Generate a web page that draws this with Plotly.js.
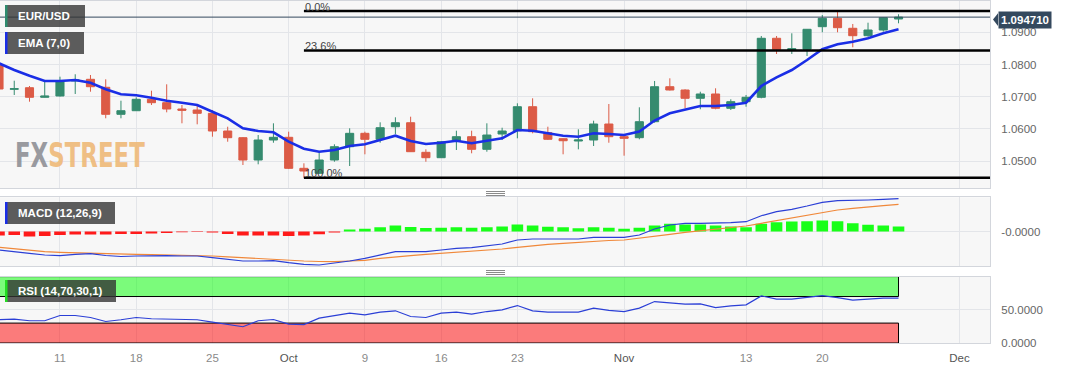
<!DOCTYPE html>
<html><head><meta charset="utf-8">
<script src="https://cdn.plot.ly/plotly-3.0.1.min.js"></script>
<style>
html,body{margin:0;padding:0;background:#fff;}
#wrap{position:relative;width:1067px;height:370px;overflow:hidden;}
#chart{width:1067px;height:370px;}
#wm{position:absolute;left:15px;top:139px;font-family:'Liberation Sans Narrow','DejaVu Sans Condensed','Liberation Sans',sans-serif;font-weight:bold;font-size:33px;line-height:1;transform:scaleX(0.77);transform-origin:left top;opacity:0.9;pointer-events:none;white-space:nowrap;}
</style>
</head><body>
<div id="wrap"><div id="chart"></div><div id="wm"><span style="color:#8f9096">FX</span><span style="color:#efb978">STREET</span></div></div>
<script>
// ---------- data ----------
const dates = [
"2023-09-05","2023-09-06","2023-09-07","2023-09-08",
"2023-09-11","2023-09-12","2023-09-13","2023-09-14","2023-09-15",
"2023-09-18","2023-09-19","2023-09-20","2023-09-21","2023-09-22",
"2023-09-25","2023-09-26","2023-09-27","2023-09-28","2023-09-29",
"2023-10-02","2023-10-03","2023-10-04","2023-10-05","2023-10-06",
"2023-10-09","2023-10-10","2023-10-11","2023-10-12","2023-10-13",
"2023-10-16","2023-10-17","2023-10-18","2023-10-19","2023-10-20",
"2023-10-23","2023-10-24","2023-10-25","2023-10-26","2023-10-27",
"2023-10-30","2023-10-31","2023-11-01","2023-11-02","2023-11-03",
"2023-11-06","2023-11-07","2023-11-08","2023-11-09","2023-11-10",
"2023-11-13","2023-11-14","2023-11-15","2023-11-16","2023-11-17",
"2023-11-20","2023-11-21","2023-11-22","2023-11-23","2023-11-24",
"2023-11-27"];

const openP = [1.07984,1.07230,1.07279,1.06981,1.07022,1.07488,1.07540,1.07292,1.06453,1.06565,
1.06919,1.06814,1.06618,1.06587,1.06484,1.05935,1.05727,1.05034,1.05655,1.05739,
1.04776,1.04621,1.05034,1.05447,1.05863,1.05677,1.06068,1.06192,1.05273,1.05106,
1.05624,1.05758,1.05366,1.05841,1.05944,1.06689,1.05882,1.05696,1.05624,1.05655,
1.06152,1.05758,1.05727,1.06224,1.07310,1.07208,1.06950,1.07084,1.06640,1.06845,
1.06981,1.08814,1.08450,1.08472,1.09174,1.09435,1.09124,1.08894,1.09071,1.09413];
const highP = [1.08047,1.07497,1.07332,1.07488,1.07621,1.07696,1.07674,1.07540,1.06876,1.06981,
1.07186,1.07385,1.06742,1.06720,1.06587,1.06068,1.05748,1.05810,1.06174,1.05913,
1.04932,1.05292,1.05522,1.06019,1.05913,1.06205,1.06360,1.06379,1.05366,1.05624,
1.05944,1.05944,1.06174,1.06037,1.06795,1.06950,1.06068,1.05708,1.05988,1.06255,
1.06773,1.05779,1.06671,1.07488,1.07571,1.07230,1.07155,1.07261,1.06919,1.07053,
1.08885,1.08885,1.08969,1.09102,1.09537,1.09650,1.09258,1.09298,1.09460,1.09559];
const lowP = [1.07177,1.07053,1.06845,1.06975,1.07006,1.07084,1.07155,1.06329,1.06329,1.06556,
1.06742,1.06515,1.06174,1.06143,1.05758,1.05602,1.04879,1.04901,1.05571,1.04755,
1.04480,1.04599,1.04981,1.04848,1.05211,1.05571,1.05842,1.05283,1.04981,1.05096,
1.05345,1.05242,1.05292,1.05655,1.05708,1.05863,1.05655,1.05211,1.05366,1.05469,
1.05571,1.05168,1.05677,1.06192,1.07192,1.06640,1.06609,1.06609,1.06587,1.06689,
1.06950,1.08326,1.08326,1.08264,1.09000,1.09000,1.08534,1.08863,1.09019,1.09279];
const closeP = [1.07239,1.07248,1.06981,1.07022,1.07488,1.07519,1.07310,1.06453,1.06565,1.06919,
1.06814,1.06618,1.06578,1.06484,1.05935,1.05727,1.05034,1.05655,1.05739,1.04776,
1.04692,1.05034,1.05447,1.05863,1.05677,1.06037,1.06192,1.05292,1.05106,1.05602,
1.05758,1.05366,1.05810,1.05935,1.06689,1.05913,1.05677,1.05633,1.05655,1.06152,
1.05758,1.05708,1.06224,1.07310,1.07208,1.06950,1.07084,1.06640,1.06845,1.06981,
1.08814,1.08472,1.08491,1.09093,1.09435,1.09143,1.08894,1.09071,1.09453,1.09471];
const ema7 = [1.08037,1.07829,1.07652,1.07488,1.07488,1.07519,1.07435,1.07230,1.07074,1.07043,
1.06969,1.06876,1.06814,1.06742,1.06534,1.06329,1.06019,1.05935,1.05894,1.05602,
1.05385,1.05292,1.05345,1.05469,1.05522,1.05655,1.05789,1.05624,1.05531,1.05571,
1.05633,1.05553,1.05624,1.05708,1.05966,1.05944,1.05863,1.05789,1.05758,1.05863,
1.05841,1.05810,1.05919,1.06261,1.06484,1.06609,1.06711,1.06711,1.06742,1.06814,
1.07332,1.07602,1.07829,1.08140,1.08472,1.08627,1.08708,1.08814,1.08969,1.09093];
const macdLine = [-0.00463,-0.00513,-0.00545,-0.00588,-0.00605,-0.00570,-0.00555,-0.00600,-0.00625,-0.00613,
-0.00605,-0.00605,-0.00613,-0.00613,-0.00655,-0.00705,-0.00738,-0.00738,-0.00730,-0.00780,
-0.00820,-0.00838,-0.00795,-0.00738,-0.00670,-0.00588,-0.00505,-0.00505,-0.00505,-0.00463,
-0.00420,-0.00405,-0.00363,-0.00313,-0.00213,-0.00188,-0.00188,-0.00188,-0.00188,-0.00145,
-0.00143,-0.00145,-0.00088,0.00063,0.00163,0.00205,0.00205,0.00205,0.00220,0.00245,
0.00395,0.00495,0.00555,0.00638,0.00730,0.00770,0.00770,0.00788,0.00805,0.00820];
const signalLine = [-0.00395,-0.00430,-0.00470,-0.00505,-0.00520,-0.00533,-0.00545,-0.00555,-0.00563,-0.00570,
-0.00578,-0.00583,-0.00588,-0.00600,-0.00613,-0.00633,-0.00655,-0.00670,-0.00695,-0.00725,
-0.00738,-0.00750,-0.00755,-0.00738,-0.00720,-0.00670,-0.00630,-0.00605,-0.00570,-0.00545,
-0.00520,-0.00505,-0.00463,-0.00438,-0.00395,-0.00355,-0.00320,-0.00295,-0.00270,-0.00238,
-0.00225,-0.00213,-0.00170,-0.00130,-0.00070,-0.00020,0.00020,0.00063,0.00105,0.00138,
0.00205,0.00270,0.00345,0.00413,0.00480,0.00538,0.00580,0.00620,0.00645,0.00680];
const macdHist = [-0.00100,-0.00088,-0.00125,-0.00113,-0.00088,-0.00075,-0.00075,-0.00075,-0.00063,-0.00063,
-0.00050,-0.00038,-0.00018,-0.00013,-0.00025,-0.00063,-0.00100,-0.00100,-0.00100,-0.00113,
-0.00100,-0.00068,-0.00025,0.00050,0.00068,0.00108,0.00150,0.00113,0.00088,0.00093,
0.00108,0.00093,0.00108,0.00125,0.00175,0.00150,0.00118,0.00108,0.00083,0.00108,
0.00093,0.00068,0.00093,0.00150,0.00193,0.00175,0.00175,0.00150,0.00125,0.00108,
0.00193,0.00233,0.00250,0.00258,0.00275,0.00258,0.00208,0.00168,0.00150,0.00125];
const rsi14 = [35,36,33.5,33.5,41.4,41.4,38.4,32.4,35,38.4,
36.5,36,36,35,31.5,28.5,24.5,33.5,35.4,28.5,
27.8,37.5,41.4,45,42.5,46.5,48.5,39.9,38.4,45,
46.5,43.5,47.4,50,56.4,48.5,46.5,46.5,46.5,52.5,
49.2,47.4,52.5,62.4,60.9,58.5,59,53.4,56,57.5,
71,66,66,68.4,71.4,68.4,64.5,66,67.5,67.5];

const lastPrice = 1.09471;
const fibHigh = 1.0966, fibLow = 1.0448, fibStartDate = "2023-10-03";
const fibRatios = [0, 0.236, 1.0];
const fibLabels = ["0.0%", "23.6%", "100.0%"];
const rsiUpper = 70, rsiLower = 30;
const priceTicks = [1.05, 1.06, 1.07, 1.08, 1.09];
const tickDates = ["2023-09-11","2023-09-18","2023-09-25","2023-10-02","2023-10-09","2023-10-16","2023-10-23","2023-11-01","2023-11-13","2023-11-20","2023-12-01"];
const tickLabels = ["11","18","25","Oct","9","16","23","Nov","13","20","Dec"];
const monthTicks = ["Oct","Nov","Dec"];

// ---------- helpers ----------
function tradingIndex(ds){
  const d0 = new Date(dates[0]+"T00:00:00Z"), d = new Date(ds+"T00:00:00Z");
  let n = 0; const t = new Date(d0);
  while (t < d){ const w = t.getUTCDay(); if (w !== 0 && w !== 6) n++; t.setUTCDate(t.getUTCDate()+1); }
  return n;
}
const xs = dates.map(tradingIndex);
const xRange = [0.066, 65.0];
const PW = 990, PH = 343;
const PX = p => p / PW;
const PY = p => (PH - p) / PH;
const yMainRange = [1.04165, 1.09987];
const mainDom = [PY(188), PY(0.5)];
const macdDom = [PY(266), PY(197.3)];
const rsiDom = [0, PY(276.6)];
const macdRange = [-0.008625, 0.00855];

const green = "#358b6f", red = "#dc5b46";
const fontFam = "Liberation Sans, Arial, sans-serif";

// ---------- traces ----------
const traces = [
 {type:"candlestick", x:xs, open:openP, high:highP, low:lowP, close:closeP,
  xaxis:"x", yaxis:"y", hoverinfo:"skip", whiskerwidth:0,
  increasing:{line:{color:green,width:1}, fillcolor:green},
  decreasing:{line:{color:red,width:1}, fillcolor:red}, showlegend:false},
 {type:"scatter", mode:"lines", x:xs, y:ema7, xaxis:"x", yaxis:"y",
  line:{color:"#1a2ee6", width:2.6}, hoverinfo:"skip", showlegend:false},
 {type:"bar", x:xs, y:macdHist, xaxis:"x2", yaxis:"y2", width:0.76,
  marker:{color:macdHist.map(v => v < 0 ? "#ff1a1a" : "#18ff18"), line:{width:0}},
  hoverinfo:"skip", showlegend:false},
 {type:"scatter", mode:"lines", x:xs, y:signalLine, xaxis:"x2", yaxis:"y2",
  line:{color:"#f0883a", width:1.2}, hoverinfo:"skip", showlegend:false},
 {type:"scatter", mode:"lines", x:xs, y:macdLine, xaxis:"x2", yaxis:"y2",
  line:{color:"#2b3fd6", width:1.2}, hoverinfo:"skip", showlegend:false},
 {type:"scatter", mode:"lines", x:xs, y:rsi14, xaxis:"x3", yaxis:"y3",
  line:{color:"#2b3fd6", width:1.2}, hoverinfo:"skip", showlegend:false}
];

// ---------- shapes & annotations ----------
const shapes = [], annotations = [];
const fibX0 = tradingIndex(fibStartDate);
fibRatios.forEach((r, k) => {
  const lv = fibHigh - r * (fibHigh - fibLow);
  shapes.push({type:"line", xref:"x", yref:"y", x0:fibX0, x1:xRange[1], y0:lv, y1:lv,
    line:{color:"#000", width:2.5}, layer:"above"});
  annotations.push({xref:"x", yref:"y", x:fibX0, y:lv, text:fibLabels[k], showarrow:false,
    xanchor:"left", yanchor:"bottom", xshift:0, yshift:-2.5, borderpad:0,
    font:{family:fontFam, size:11, color:"#444"}});
});
// current price line
shapes.push({type:"line", xref:"paper", yref:"y", x0:0, x1:1, y0:lastPrice, y1:lastPrice,
  line:{color:"#34495e", width:1}, layer:"above"});
// price tag
const priceYpx = 0.5 + (yMainRange[1] - lastPrice) / (yMainRange[1] - yMainRange[0]) * (188 - 0.5);
const tagC = priceYpx + 2.5;
shapes.push({type:"path", xref:"paper", yref:"paper",
  path:`M ${PX(993)} ${PY(tagC)} L ${PX(998)} ${PY(tagC-6.3)} L ${PX(998)} ${PY(tagC+6.3)} Z`,
  fillcolor:"#34495e", line:{width:0}});
annotations.push({xref:"paper", yref:"paper", x:PX(997.5), y:PY(tagC), xanchor:"left", yanchor:"middle",
  text:"<b>" + lastPrice.toFixed(6) + "</b>", showarrow:false, bgcolor:"#34495e", borderpad:2,
  font:{family:fontFam, size:11.5, color:"#fff"}});
// RSI bands
const lastX = xs[xs.length-1];
shapes.push({type:"rect", xref:"x3", yref:"y3", x0:xRange[0]-0.05, x1:lastX, y0:rsiUpper, y1:100,
  fillcolor:"rgba(0,255,0,0.5)", line:{color:"#000", width:1}, layer:"between"});
shapes.push({type:"rect", xref:"x3", yref:"y3", x0:xRange[0]-0.05, x1:lastX, y0:0, y1:rsiLower,
  fillcolor:"rgba(255,0,0,0.5)", line:{color:"#000", width:1}, layer:"between"});
// legend boxes
const boxes = [
  {x0:5, x1:85, y0:5, y1:27, bar:"#2e8b6e", text:"EUR/USD"},
  {x0:5, x1:84, y0:32, y1:54, bar:"#1a2ee6", text:"EMA (7,0)"},
  {x0:5, x1:115, y0:202, y1:224, bar:"#1a2ee6", text:"MACD (12,26,9)"},
  {x0:5, x1:116, y0:280, y1:302, bar:"#22dd22", text:"RSI (14,70,30,1)"}
];
boxes.forEach(b => {
  shapes.push({type:"rect", xref:"paper", yref:"paper", x0:PX(b.x0), x1:PX(b.x1), y0:PY(b.y1), y1:PY(b.y0),
    fillcolor:"rgba(52,52,52,0.8)", line:{width:0}, layer:"above"});
  shapes.push({type:"rect", xref:"paper", yref:"paper", x0:PX(b.x0), x1:PX(b.x0+2.5), y0:PY(b.y1), y1:PY(b.y0),
    fillcolor:b.bar, line:{width:0}, layer:"above"});
  annotations.push({xref:"paper", yref:"paper", x:PX(b.x0+11), y:PY((b.y0+b.y1)/2), xanchor:"left", yanchor:"middle",
    text:"<b>"+b.text+"</b>", showarrow:false, font:{family:fontFam, size:11.5, color:"#fff"}});
});
// panel handles
[191.5, 270.5].forEach(y => {
  for (let k = 0; k < 3; k++) {
    shapes.push({type:"line", xref:"paper", yref:"paper", x0:PX(486), x1:PX(505),
      y0:PY(y + 2*k), y1:PY(y + 2*k), line:{color:"#8a8a8a", width:1}});
  }
});

// ---------- axes ----------
const tickvals = tickDates.map(tradingIndex);
const ticktext = tickLabels.map(t => monthTicks.includes(t)
  ? '<span style="color:#555">' + t + '</span>' : '<span style="color:#8a8a8a">' + t + '</span>');
const gridC = "#e3e5e9", lineC = "#d3d6dc";
const xBase = {range:xRange, showgrid:true, gridcolor:gridC, gridwidth:1, zeroline:false,
  showline:true, mirror:true, linecolor:lineC, linewidth:1, tickvals:tickvals, ticktext:ticktext,
  fixedrange:true};
const yBase = {side:"right", zeroline:false, showline:true, mirror:true, linecolor:lineC, linewidth:1,
  gridcolor:gridC, ticks:"outside", ticklen:8, tickcolor:"rgba(0,0,0,0)",
  tickfont:{family:fontFam, size:11.5, color:"#666"}, fixedrange:true};

const layout = {
  width:1067, height:370, margin:{l:0, r:77, t:0, b:27},
  paper_bgcolor:"#fff", plot_bgcolor:"#f7f7f7", showlegend:false,
  font:{family:fontFam, size:11, color:"#666"},
  boxgap:0.24,
  xaxis:Object.assign({}, xBase, {domain:[0,1], anchor:"y", showticklabels:false, rangeslider:{visible:false}}),
  xaxis2:Object.assign({}, xBase, {domain:[0,1], anchor:"y2", matches:"x", showticklabels:false}),
  xaxis3:Object.assign({}, xBase, {domain:[0,1], anchor:"y3", matches:"x", showticklabels:true,
     ticks:"outside", ticklen:4, tickcolor:"rgba(0,0,0,0)", tickfont:{family:fontFam, size:11.5, color:"#888"}}),
  yaxis:Object.assign({}, yBase, {domain:mainDom, range:yMainRange, anchor:"x", tickvals:priceTicks, tickformat:".4f"}),
  yaxis2:Object.assign({}, yBase, {domain:macdDom, range:macdRange, anchor:"x2", tickvals:[0], ticktext:["-0.0000"]}),
  yaxis3:Object.assign({}, yBase, {domain:rsiDom, range:[0,100], anchor:"x3", tickvals:[0,50], ticktext:["0.0000","50.0000"]}),
  shapes:shapes, annotations:annotations
};

Plotly.newPlot("chart", traces, layout, {staticPlot:true, displayModeBar:false});
</script>
</body></html>
